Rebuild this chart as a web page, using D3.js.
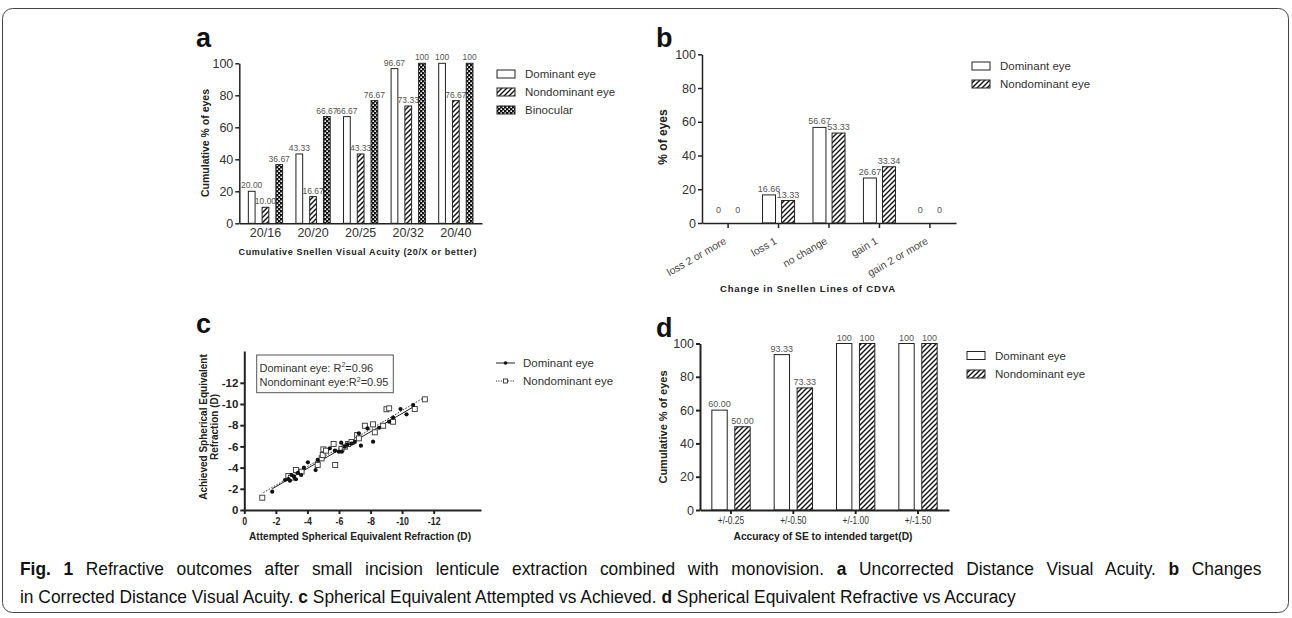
<!DOCTYPE html>
<html>
<head>
<meta charset="utf-8">
<script src="https://cdn.jsdelivr.net/npm/d3@7"></script>
<style>
body { margin: 0; background: #fff; }
svg { display: block; font-family: "Liberation Sans", Arial, sans-serif; }
</style>
</head>
<body>
<svg id="fig" width="1292" height="618"></svg>
<script>
// ---- data ----
var acuityCats = ["20/16", "20/20", "20/25", "20/32", "20/40"]
var acuityDom = [20.00, 43.33, 66.67, 96.67, 100]
var acuityNondom = [10.00, 16.67, 43.33, 73.33, 76.67]
var acuityBino = [36.67, 66.67, 76.67, 100, 100]

var linesCats = ["loss 2 or more", "loss 1", "no change", "gain 1", "gain 2 or more"]
var linesDom = [0, 16.66, 56.67, 26.67, 0]
var linesNondom = [0, 13.33, 53.33, 33.34, 0]

var accCats = ["+/-0.25", "+/-0.50", "+/-1.00", "+/-1.50"]
var accDom = [60.00, 93.33, 100, 100]
var accNondom = [50.00, 73.33, 100, 100]

var pctTicks = [0, 20, 40, 60, 80, 100]
var seTicks = [0, -2, -4, -6, -8, -10, -12]

// attempted vs achieved SE (D)
var domAttempted = [-1.77, -2.58, -2.79, -2.89, -3.00, -3.15, -3.27, -3.40, -3.60, -3.78, -4.03, -4.52, -4.65, -5.42, -5.74, -5.99,
  -6.14, -6.18, -6.37, -6.54, -6.80, -7.00, -7.26, -7.39, -7.81, -8.16, -8.54, -9.18, -9.43, -9.90, -10.28, -10.70]
var domAchieved = [-1.73, -2.83, -2.92, -2.77, -3.30, -3.14, -2.90, -3.50, -3.30, -3.99, -4.50, -3.77, -4.72, -5.82, -5.60, -5.50,
  -6.35, -5.50, -5.97, -6.19, -6.27, -6.42, -7.23, -6.07, -7.70, -6.45, -7.76, -8.33, -8.71, -9.53, -9.03, -9.90]
var nondomAttempted = [-1.14, -2.79, -2.95, -3.27, -3.63, -4.65, -4.90, -4.97, -5.01, -5.18, -5.66, -5.76, -6.16, -6.37, -6.58,
  -6.80, -7.15, -7.26, -7.64, -8.16, -8.27, -8.80, -9.01, -9.18, -9.43, -10.80, -11.44]
var nondomAchieved = [-1.16, -3.21, -3.05, -3.77, -3.62, -4.25, -4.87, -5.19, -5.72, -5.60, -6.23, -4.25, -5.77, -5.97, -6.23,
  -6.42, -7.08, -6.76, -7.95, -8.08, -7.33, -7.95, -9.50, -9.59, -8.33, -9.53, -10.44]

var ink = "#222"
var grey = "#333"

var svg = d3.select("#fig")

// border
svg.append("rect")
  .attr("x", 2.5).attr("y", 8.5).attr("width", 1286).attr("height", 604).attr("rx", 10)
  .attr("fill", "none").attr("stroke", "#444").attr("stroke-width", 1)

// patterns
var defs = svg.append("defs")
var hatch = defs.append("pattern").attr("id", "hatch")
  .attr("patternUnits", "userSpaceOnUse").attr("width", 5).attr("height", 5)
hatch.append("rect").attr("width", 5).attr("height", 5).attr("fill", "#fff")
hatch.append("path").attr("d", "M-1,1 l2,-2 M0,5 l5,-5 M4,6 l2,-2")
  .attr("stroke", "#111").attr("stroke-width", 1.4)
var checks = defs.append("pattern").attr("id", "checks")
  .attr("patternUnits", "userSpaceOnUse").attr("width", 4).attr("height", 4)
checks.append("rect").attr("width", 4).attr("height", 4).attr("fill", "#111")
checks.append("rect").attr("x", 0.4).attr("y", 0.4).attr("width", 1.6).attr("height", 1.6).attr("fill", "#fff")
checks.append("rect").attr("x", 2.4).attr("y", 2.4).attr("width", 1.6).attr("height", 1.6).attr("fill", "#fff")

function lbl(v) {
  return (v === 0 || v === 100) ? String(v) : v.toFixed(2)
}

function styleAxis(a, sw, fs, fw, fill) {
  a.attr("font-family", null).attr("font-size", null)
  a.select(".domain").attr("stroke", ink).attr("stroke-width", sw)
  a.selectAll(".tick line").attr("stroke", ink).attr("stroke-width", sw)
  a.selectAll(".tick text").attr("fill", fill || grey).attr("font-size", fs).attr("font-weight", fw || "normal")
}

function panelLetter(t, x, y) {
  svg.append("text").attr("x", x).attr("y", y).attr("font-size", 27).attr("font-weight", "bold")
    .attr("fill", "#111").text(t)
}

function barPanel(o) {
  var g = svg.append("g")
  var x0 = d3.scaleBand().domain(o.cats).range(o.xr).paddingInner(o.pi).paddingOuter(o.po)
  var x1 = d3.scaleBand().domain(d3.range(o.series.length)).range([0, x0.bandwidth()]).paddingInner(o.pin)
  var y = d3.scaleLinear().domain([0, 100]).range(o.yr)

  o.series.forEach(function(s, i) {
    g.append("g").selectAll("rect").data(s.vals).enter().append("rect")
      .attr("x", function(d, j) { return x0(o.cats[j]) + x1(i) })
      .attr("y", function(d) { return y(d) })
      .attr("width", x1.bandwidth())
      .attr("height", function(d) { return y(0) - y(d) })
      .attr("fill", s.fill).attr("stroke", ink).attr("stroke-width", 1)
    g.append("g").selectAll("text").data(s.vals).enter().append("text")
      .attr("x", function(d, j) { return x0(o.cats[j]) + x1(i) + x1.bandwidth() / 2 })
      .attr("y", function(d) { return y(Math.max(d, 4)) - 3 })
      .attr("text-anchor", "middle").attr("font-size", o.lblSize).attr("fill", "#555")
      .text(lbl)
  })

  var ya = g.append("g").attr("transform", "translate(" + o.xr[0] + ",0)")
    .call(d3.axisLeft(y).tickValues(pctTicks).tickSize(4).tickSizeOuter(0).tickPadding(2))
  styleAxis(ya, o.sw, 12.5)

  var xa = g.append("g").attr("transform", "translate(0," + y(0) + ")")
    .call(d3.axisBottom(x0).tickSize(o.xTick).tickSizeOuter(0).tickPadding(o.xPad))
  styleAxis(xa, o.sw, o.xFs)
  return { g: g, xa: xa, x0: x0, y: y }
}

function barLegend(x, ys, items, fs) {
  items.forEach(function(it, i) {
    svg.append("rect").attr("x", x).attr("y", ys[i] - 4).attr("width", 18).attr("height", 8)
      .attr("fill", it.fill).attr("stroke", ink).attr("stroke-width", 1)
    svg.append("text").attr("x", x + 28).attr("y", ys[i]).attr("dy", "0.35em")
      .attr("font-size", fs).attr("fill", grey).text(it.name)
  })
}

function xTitle(t, cx, y, len, squeeze, fs) {
  svg.append("text").attr("x", cx).attr("y", y).attr("text-anchor", "middle")
    .attr("font-size", fs).attr("font-weight", "bold").attr("fill", ink)
    .attr("textLength", len).attr("lengthAdjust", squeeze ? "spacingAndGlyphs" : "spacing")
    .text(t)
}

function yTitle(t, x, cy, fs) {
  svg.append("text").attr("transform", "translate(" + x + "," + cy + ") rotate(-90)")
    .attr("text-anchor", "middle").attr("dy", "0.35em")
    .attr("font-size", fs).attr("font-weight", "bold").attr("fill", ink).text(t)
}

// ---- panel a ----
panelLetter("a", 196, 47)
barPanel({
  cats: acuityCats,
  series: [{ vals: acuityDom, fill: "#fff" }, { vals: acuityNondom, fill: "url(#hatch)" }, { vals: acuityBino, fill: "url(#checks)" }],
  xr: [239.3, 482], yr: [223.3, 63.3], pi: 0.28, po: 0.19, pin: 0.51,
  lblSize: 8.5, sw: 1.5, xTick: 0, xPad: 5, xFs: 12.5
})
yTitle("Cumulative % of eyes", 205, 143, 10.5)
xTitle("Cumulative Snellen Visual Acuity (20/X or better)", 357.5, 255, 238, false, 9)
barLegend(497, [74, 92, 110], [
  { name: "Dominant eye", fill: "#fff" },
  { name: "Nondominant eye", fill: "url(#hatch)" },
  { name: "Binocular", fill: "url(#checks)" }], 11.5)

// ---- panel b ----
panelLetter("b", 656, 47)
var pb = barPanel({
  cats: linesCats,
  series: [{ vals: linesDom, fill: "#fff" }, { vals: linesNondom, fill: "url(#hatch)" }],
  xr: [702, 956], yr: [223, 54.3], pi: 0.365, po: 0.2, pin: 0.32,
  lblSize: 9, sw: 1.5, xTick: 5, xPad: 0, xFs: 10.5
})
pb.xa.selectAll(".tick text")
  .attr("y", 0).attr("dy", 0).attr("text-anchor", "end").attr("fill", "#444")
  .attr("transform", "translate(-1,20) rotate(-30)")
yTitle("% of eyes", 663, 137, 12)
xTitle("Change in Snellen Lines of CDVA", 807.5, 291.5, 175, false, 9.5)
barLegend(972, [66, 84], [
  { name: "Dominant eye", fill: "#fff" },
  { name: "Nondominant eye", fill: "url(#hatch)" }], 11.5)

// ---- panel c ----
panelLetter("c", 196, 333)
var xc = d3.scaleLinear().domain([0, -15]).range([244.3, 481])
var yc = d3.scaleLinear().domain([0, -15]).range([510, 351])
var gc = svg.append("g")

var xca = gc.append("g").attr("transform", "translate(0," + yc(0) + ")")
  .call(d3.axisBottom(xc).tickValues(seTicks).tickFormat(function(d) { return String(d) })
    .tickSize(4).tickSizeOuter(0).tickPadding(3))
styleAxis(xca, 2, 11, "bold", ink)
xca.selectAll(".tick text").attr("transform", "scale(0.8,1)")
var yca = gc.append("g").attr("transform", "translate(" + xc(0) + ",0)")
  .call(d3.axisLeft(yc).tickValues(seTicks).tickFormat(function(d) { return String(d) })
    .tickSize(4).tickSizeOuter(0).tickPadding(2))
styleAxis(yca, 2, 11.5, "bold", ink)

function fitLine(xs, ys) {
  var mx = d3.mean(xs), my = d3.mean(ys)
  var sxy = d3.sum(xs, function(v, i) { return (v - mx) * (ys[i] - my) })
  var sxx = d3.sum(xs, function(v) { return (v - mx) * (v - mx) })
  var b = sxy / sxx
  var ext = d3.extent(xs)
  return ext.map(function(v) { return [v, my + b * (v - mx)] })
}
var lineGen = d3.line().x(function(d) { return xc(d[0]) }).y(function(d) { return yc(d[1]) })
gc.append("path").attr("d", lineGen(fitLine(nondomAttempted, nondomAchieved)))
  .attr("fill", "none").attr("stroke", "#333").attr("stroke-width", 1).attr("stroke-dasharray", "1.5,1.5")
gc.append("path").attr("d", lineGen(fitLine(domAttempted, domAchieved)))
  .attr("fill", "none").attr("stroke", "#222").attr("stroke-width", 1)

gc.append("g").selectAll("rect").data(nondomAttempted).enter().append("rect")
  .attr("x", function(d) { return xc(d) - 2.5 })
  .attr("y", function(d, i) { return yc(nondomAchieved[i]) - 2.5 })
  .attr("width", 5).attr("height", 5)
  .attr("fill", "#fff").attr("stroke", "#333").attr("stroke-width", 0.9)
gc.append("g").selectAll("circle").data(domAttempted).enter().append("circle")
  .attr("cx", function(d) { return xc(d) })
  .attr("cy", function(d, i) { return yc(domAchieved[i]) })
  .attr("r", 2.1).attr("fill", "#111")

// R² box
gc.append("rect").attr("x", 256.7).attr("y", 355).attr("width", 136.6).attr("height", 37.7)
  .attr("fill", "#fff").attr("stroke", "#555").attr("stroke-width", 1)
var r1 = gc.append("text").attr("x", 259.5).attr("y", 371.5).attr("font-size", 11).attr("fill", grey)
r1.append("tspan").text("Dominant eye: R")
r1.append("tspan").attr("font-size", 7).attr("dy", -4.5).text("2")
r1.append("tspan").attr("dy", 4.5).text("=0.96")
var r2 = gc.append("text").attr("x", 259.5).attr("y", 386).attr("font-size", 11).attr("fill", grey)
r2.append("tspan").text("Nondominant eye:R")
r2.append("tspan").attr("font-size", 7).attr("dy", -4.5).text("2")
r2.append("tspan").attr("dy", 4.5).text("=0.95")

// legend c
var lc = svg.append("g")
lc.append("line").attr("x1", 496).attr("x2", 515).attr("y1", 363).attr("y2", 363).attr("stroke", "#222").attr("stroke-width", 1)
lc.append("circle").attr("cx", 505.5).attr("cy", 363).attr("r", 1.8).attr("fill", "#111")
lc.append("line").attr("x1", 496).attr("x2", 515).attr("y1", 381).attr("y2", 381).attr("stroke", "#333")
  .attr("stroke-width", 1).attr("stroke-dasharray", "1.2,1.2")
lc.append("rect").attr("x", 503.5).attr("y", 379).attr("width", 4).attr("height", 4)
  .attr("fill", "#fff").attr("stroke", "#333").attr("stroke-width", 0.9)
lc.append("text").attr("x", 523).attr("y", 363).attr("dy", "0.35em").attr("font-size", 11.5).attr("fill", grey).text("Dominant eye")
lc.append("text").attr("x", 523).attr("y", 381).attr("dy", "0.35em").attr("font-size", 11.5).attr("fill", grey).text("Nondominant eye")

var yct = svg.append("text").attr("transform", "translate(208.5,427) rotate(-90)")
  .attr("text-anchor", "middle").attr("font-size", 10).attr("font-weight", "bold").attr("fill", ink)
yct.append("tspan").attr("x", 0).attr("dy", "-0.2em").text("Achieved Spherical Equivalent")
yct.append("tspan").attr("x", 0).attr("dy", "1.1em").text("Refraction (D)")
xTitle("Attempted Spherical Equivalent Refraction (D)", 360, 540, 222, true, 10.5)

// ---- panel d ----
panelLetter("d", 656, 337)
var pd = barPanel({
  cats: accCats,
  series: [{ vals: accDom, fill: "#fff" }, { vals: accNondom, fill: "url(#hatch)" }],
  xr: [700, 949], yr: [510, 343.5], pi: 0.385, po: 0.19, pin: 0.33,
  lblSize: 9, sw: 2, xTick: 4, xPad: 3, xFs: 10.5
})
pd.xa.selectAll(".tick text").attr("transform", "scale(0.8,1)")
yTitle("Cumulative % of eyes", 663, 427, 11)
xTitle("Accuracy of SE to intended target(D)", 823, 540, 179, true, 10.5)
barLegend(967, [355.5, 374], [
  { name: "Dominant eye", fill: "#fff" },
  { name: "Nondominant eye", fill: "url(#hatch)" }], 11.5)

// ---- caption (justified first line, condensed face) ----
var capLines = [
  [["Fig. 1", true], [" Refractive outcomes after small incision lenticule extraction combined with monovision. ", false],
   ["a", true], [" Uncorrected Distance Visual Acuity. ", false], ["b", true], [" Changes", false]],
  [["in Corrected Distance Visual Acuity. ", false], ["c", true], [" Spherical Equivalent Attempted vs Achieved. ", false],
   ["d", true], [" Spherical Equivalent Refractive vs Accuracy", false]]
]
var capNodes = capLines.map(function(parts) {
  var t = svg.append("text").attr("x", 0).attr("y", 0).attr("font-size", 18.5).attr("fill", "#111")
  parts.forEach(function(p) {
    t.append("tspan").attr("font-weight", p[1] ? "bold" : "normal").text(p[0])
  })
  return t
})
var w1 = capNodes[0].node().getBBox().width
var w2 = capNodes[1].node().getBBox().width
var k = 997 / w2
var spaces = capLines[0].map(function(p) { return p[0] }).join("").split(" ").length - 1
capNodes[0].attr("word-spacing", (1242 / k - w1) / spaces)
capNodes.forEach(function(t, i) {
  t.attr("transform", "translate(20," + (575 + i * 28) + ") scale(" + k + ",1)")
})
</script>
</body>
</html>
